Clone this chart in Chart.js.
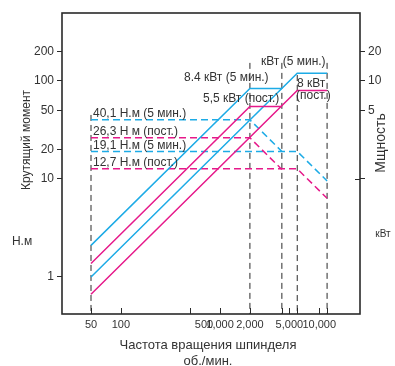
<!DOCTYPE html>
<html>
<head>
<meta charset="utf-8">
<script src="https://cdn.jsdelivr.net/npm/chart.js@4"></script>
<style>
  html, body { margin: 0; padding: 0; background: #fff; }
</style>
</head>
<body>
<canvas id="chart" width="395" height="366"></canvas>
<script>
/* ── axis ticks ── */
const speedTicks  = [50, 100, 500, 1000, 2000, 4200, 5000, 6000, 10000, 12000];
const speedLabels = ["50", "100", "         500", "1,000", "2,000", "", "5,000", "", "10,000", ""];
const torqueTicks = [1, 10, 20, 50, 100, 200];
const powerTicks  = [1, 5, 10, 20];
const powerLabels = ["", "5", "10", "20"];

/* ── spindle speeds (rpm) ── */
const lowSpeeds  = [50, 2000, 4200];
const highSpeeds = [50, 6000, 12000];

/* ── power, kW (right axis) ── */
const powerLow5min  = [0.21, 8.4, 8.4];
const powerLowCont  = [0.1375, 5.5, 5.5];
const powerHigh5min = [0.1, 12, 12];
const powerHighCont = [0.0667, 8, 8];

/* ── torque, N.m (left axis) ── */
const torqueLow5min  = [40.1, 40.1, 19.1];
const torqueLowCont  = [26.3, 26.3, 12.5];
const torqueHigh5min = [19.1, 19.1, 9.55];
const torqueHighCont = [12.7, 12.7, 6.35];

/* ── vertical guide lines: speed and top (N.m) ── */
const guideSpeeds = [50, 2000, 4200, 6000, 12000];
const guideTops   = [45, 153, 153, 115, 153];

const CYAN    = "#1dabe6";
const MAGENTA = "#e6198a";
const INK     = "#2a2a2a";
const FONT    = "'Liberation Sans', Arial, sans-serif";

const X_MIN = 25.5, X_MAX = 25760;
const Y_MIN = 0.419, Y_MAX = 494;

function pts(xs, ys) {
  return xs.map((x, i) => ({ x, y: ys[i] }));
}

function curve(xs, ys, color, axis, dashed) {
  return {
    data: pts(xs, ys),
    yAxisID: axis,
    borderColor: color,
    borderWidth: 1.5,
    borderDash: dashed ? [7, 4] : [],
    pointRadius: 0,
    fill: false,
    tension: 0,
  };
}

const datasets = [
  curve(lowSpeeds,  powerLow5min,   CYAN,    "y2", false),
  curve(lowSpeeds,  powerLowCont,   MAGENTA, "y2", false),
  curve(highSpeeds, powerHigh5min,  CYAN,    "y2", false),
  curve(highSpeeds, powerHighCont,  MAGENTA, "y2", false),
  curve(lowSpeeds,  torqueLow5min,  CYAN,    "y",  true),
  curve(lowSpeeds,  torqueLowCont,  MAGENTA, "y",  true),
  curve(highSpeeds, torqueHigh5min, CYAN,    "y",  true),
  curve(highSpeeds, torqueHighCont, MAGENTA, "y",  true),
];

guideSpeeds.forEach((s, i) => {
  datasets.push({
    data: [{ x: s, y: guideTops[i] }, { x: s, y: Y_MIN }],
    yAxisID: "y",
    borderColor: INK,
    borderWidth: 1,
    borderDash: [6, 4],
    pointRadius: 0,
    order: 10,
  });
});

/* ── frame, inner ticks and free text ── */
const decorPlugin = {
  id: "decor",
  afterDatasetsDraw(chart) {
    const { ctx, chartArea: a, scales } = chart;
    ctx.save();

    ctx.strokeStyle = INK;
    ctx.lineWidth = 1.6;
    ctx.strokeRect(a.left, a.top, a.right - a.left, a.bottom - a.top);

    ctx.lineWidth = 1;
    ctx.beginPath();
    speedTicks.forEach((v) => {
      const x = Math.round(scales.x.getPixelForValue(v)) + 0.5;
      ctx.moveTo(x, a.bottom);
      ctx.lineTo(x, a.bottom - 6);
    });
    const y1 = Math.round(scales.y2.getPixelForValue(1)) + 0.5;
    ctx.moveTo(a.right - 5, y1);
    ctx.lineTo(a.right, y1);
    ctx.stroke();

    ctx.fillStyle = "#333";
    ctx.textBaseline = "middle";
    ctx.font = "12px " + FONT;
    ctx.textAlign = "left";

    const x50 = scales.x.getPixelForValue(50) + 2;
    [
      ["40,1 Н.м (5 мин.)", 40.1],
      ["26,3 Н м (пост.)",  26.3],
      ["19,1 Н.м (5 мин.)", 19.1],
      ["12,7 Н.м (пост.)",  12.7],
    ].forEach(([t, v]) => {
      ctx.fillText(t, x50, scales.y.getPixelForValue(v) - 6);
    });

    ctx.fillText("8.4 кВт (5 мин.)", 184, 78);
    ctx.fillText("5,5 кВт (пост.)", 203, 99);
    ctx.fillText("кВт (5 мин.)", 261, 62);
    ctx.fillText("8 кВт", 297, 84);
    ctx.fillText("(пост.)", 296, 96);

    ctx.textAlign = "center";
    ctx.fillText("Н.м", 22, 242);
    ctx.font = "13px " + FONT;
    ctx.fillText("Частота вращения шпинделя", 208, 345);
    ctx.fillText("об./мин.", 208, 361);
    ctx.font = "10px " + FONT;
    ctx.fillText("кВт", 383, 234);

    ctx.font = "12px " + FONT;
    ctx.save();
    ctx.translate(27, 140);
    ctx.rotate(-Math.PI / 2);
    ctx.fillText("Крутящий момент", 0, 0);
    ctx.restore();

    ctx.font = "14px " + FONT;
    ctx.save();
    ctx.translate(381, 143);
    ctx.rotate(-Math.PI / 2);
    ctx.fillText("Мщность", 0, 0);
    ctx.restore();

    ctx.restore();
  },
};

Chart.defaults.font.family = FONT;
Chart.defaults.color = "#333";

new Chart(document.getElementById("chart"), {
  type: "line",
  data: { datasets },
  plugins: [decorPlugin],
  options: {
    responsive: false,
    animation: false,
    layout: { padding: { top: 13, left: 0, right: 0, bottom: 0 } },
    plugins: { legend: { display: false }, tooltip: { enabled: false } },
    scales: {
      x: {
        type: "logarithmic",
        min: X_MIN,
        max: X_MAX,
        bounds: "data",
        afterBuildTicks: (s) => { s.ticks = speedTicks.map((v) => ({ value: v })); },
        afterFit: (s) => { s.height = 52; },
        grid: { display: false, drawTicks: false, tickLength: 0 },
        border: { display: false },
        ticks: {
          autoSkip: false,
          maxRotation: 0,
          minRotation: 0,
          padding: 4,
          font: { size: 11 },
          callback: (v) => speedLabels[speedTicks.indexOf(v)] ?? "",
        },
      },
      y: {
        type: "logarithmic",
        position: "left",
        min: Y_MIN,
        max: Y_MAX,
        bounds: "data",
        afterBuildTicks: (s) => { s.ticks = torqueTicks.map((v) => ({ value: v })); },
        afterFit: (s) => { s.width = 62; },
        grid: { drawOnChartArea: false, tickLength: 5, color: INK },
        border: { display: false },
        ticks: {
          padding: 3,
          font: { size: 12 },
          callback: (v) => torqueTicks.includes(v) ? String(v) : "",
        },
      },
      y2: {
        type: "logarithmic",
        position: "right",
        min: Y_MIN / 10,
        max: Y_MAX / 10,
        bounds: "data",
        afterBuildTicks: (s) => { s.ticks = powerTicks.map((v) => ({ value: v })); },
        afterFit: (s) => { s.width = 35; },
        grid: { drawOnChartArea: false, tickLength: 5, color: INK },
        border: { display: false },
        ticks: {
          padding: 3,
          font: { size: 12 },
          callback: (v) => powerLabels[powerTicks.indexOf(v)] ?? "",
        },
      },
    },
  },
});
</script>
</body>
</html>
